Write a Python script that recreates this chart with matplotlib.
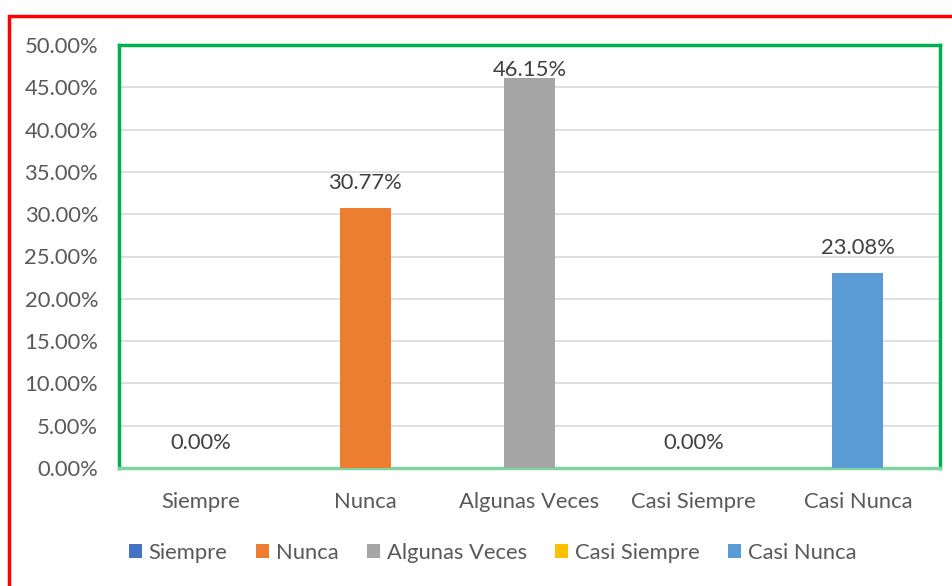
import matplotlib.pyplot as plt
from matplotlib.patches import Rectangle, Patch
from matplotlib.ticker import FuncFormatter

categories = ["Siempre", "Nunca", "Algunas Veces", "Casi Siempre", "Casi Nunca"]
values = [0.0, 30.77, 46.15, 0.0, 23.08]
colors = ["#4472C4", "#ED7D31", "#A5A5A5", "#FFC000", "#5B9BD5"]

plt.rcParams['font.family'] = ['Lato', 'DejaVu Sans']
txt = "#595959"
fs = 15.8

fig = plt.figure(figsize=(9.53, 5.86), dpi=100)
W, H = 953, 586
ax = fig.add_axes([119 / W, 1 - 468 / H, (940 - 119) / W, (468 - 45) / H])

x = range(len(categories))
bars = ax.bar(x, values, width=0.31, color=colors, zorder=3)
off = 2.95
for i, v in enumerate(values):
    # keep label inside the plot area, like the spreadsheet does
    ax.text(i, min(v + off, 50 - 2.9), f"{v:.2f}%", ha="center", va="center",
            fontsize=fs, color="#404040", zorder=4)

ax.set_xlim(-0.5, len(categories) - 0.5)
ax.set_ylim(0, 50)
ax.set_yticks(range(0, 51, 5))
ax.yaxis.set_major_formatter(FuncFormatter(lambda v, p: f"{v:.2f}%"))
ax.set_xticks(list(x))
ax.set_xticklabels(categories)
ax.tick_params(axis="both", length=0, labelsize=fs, labelcolor=txt)
ax.tick_params(axis="x", pad=17)
ax.tick_params(axis="y", pad=15)
ax.grid(axis="y", color="#D9D9D9", linewidth=1.2, zorder=0)
for s in ax.spines.values():
    s.set_color("#00B050")
    s.set_linewidth(2.5)
ax.spines["bottom"].set_color("#7FD3A0")

handles = [Patch(facecolor=c) for c in colors]
fig.legend(handles, categories, loc="center", bbox_to_anchor=(0.517, 1 - 553 / H), ncol=5,
           frameon=False, fontsize=fs, labelcolor=txt, handlelength=0.6, handleheight=0.6,
           handletextpad=0.3, columnspacing=1.3)

fig.add_artist(Rectangle((9 / W, -0.1), 1.2, 1 - 16 / H + 0.1, transform=fig.transFigure,
                         fill=False, edgecolor="#FF0000", linewidth=2.5, clip_on=False))

fig.savefig("out.png", dpi=100)
